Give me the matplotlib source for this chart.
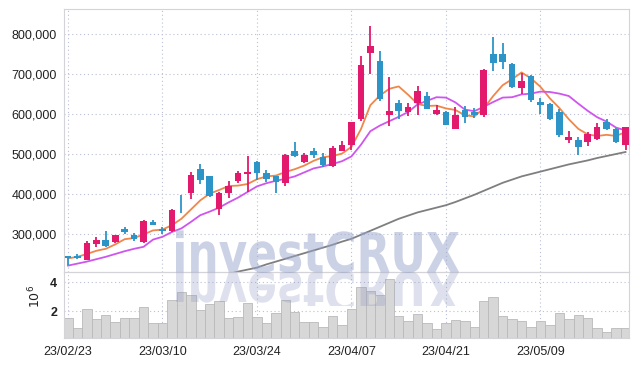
import numpy as np
import matplotlib
matplotlib.use('Agg')
import matplotlib.pyplot as plt
from matplotlib.ticker import FuncFormatter
from matplotlib.textpath import TextPath
from matplotlib.patches import PathPatch
from matplotlib.font_manager import FontProperties
from matplotlib.transforms import Affine2D, Bbox

plt.rcParams['font.family'] = ['Liberation Sans', 'DejaVu Sans']

# trading days (yy/mm/dd)
dates = ['23/02/23', '23/02/24', '23/02/27', '23/02/28', '23/03/02', '23/03/03', '23/03/06', '23/03/07',
         '23/03/08', '23/03/09', '23/03/10', '23/03/13', '23/03/14', '23/03/15', '23/03/16', '23/03/17',
         '23/03/20', '23/03/21', '23/03/22', '23/03/23', '23/03/24', '23/03/27', '23/03/28', '23/03/29',
         '23/03/30', '23/03/31', '23/04/03', '23/04/04', '23/04/05', '23/04/06', '23/04/07', '23/04/10',
         '23/04/11', '23/04/12', '23/04/13', '23/04/14', '23/04/17', '23/04/18', '23/04/19', '23/04/20',
         '23/04/21', '23/04/24', '23/04/25', '23/04/26', '23/04/27', '23/04/28', '23/05/02', '23/05/03',
         '23/05/04', '23/05/08', '23/05/09', '23/05/10', '23/05/11', '23/05/12', '23/05/15', '23/05/16',
         '23/05/17', '23/05/18', '23/05/19', '23/05/22']

# prices in thousands
open_ = [244, 245, 236, 276, 285, 281, 312, 298, 281, 331, 313, 307, 370, 403, 462, 445, 363, 402, 433, 449,
         481, 452, 445, 428, 507, 481, 507, 493, 470, 508, 522, 587, 753, 732, 597, 627, 605, 627, 645, 600,
         606, 563, 610, 605, 597, 750, 750, 725, 664, 695, 631, 624, 605, 535, 535, 530, 537, 581, 562, 522]
high = [245, 250, 282, 292, 307, 297, 317, 302, 335, 335, 318, 362, 397, 454, 474, 446, 405, 432, 457, 495,
        482, 460, 446, 499, 529, 503, 516, 502, 520, 533, 581, 745, 820, 757, 693, 635, 627, 670, 656, 622,
        607, 618, 620, 614, 712, 793, 778, 728, 702, 698, 639, 628, 612, 558, 542, 556, 578, 587, 564, 568]
low = [223, 237, 235, 268, 268, 277, 300, 283, 278, 322, 300, 305, 353, 387, 424, 392, 347, 390, 428, 406,
       435, 430, 403, 421, 492, 477, 490, 468, 468, 507, 510, 583, 700, 633, 570, 587, 594, 597, 612, 597,
       572, 562, 577, 589, 592, 708, 712, 664, 650, 631, 599, 586, 543, 528, 497, 521, 535, 560, 527, 510]
close = [239, 240, 277, 286, 271, 297, 306, 288, 333, 323, 307, 360, 369, 447, 435, 395, 403, 420, 453, 456,
         453, 437, 430, 497, 495, 497, 498, 472, 515, 522, 581, 722, 770, 637, 607, 608, 617, 657, 613, 611,
         572, 597, 593, 598, 710, 728, 731, 668, 682, 635, 622, 587, 547, 543, 518, 550, 567, 562, 529, 567]

ma5 = [239, 243, 250, 258, 263, 274, 287, 290, 299, 309, 311, 322, 338, 361, 384, 401, 410, 420, 421, 425,
       437, 444, 446, 455, 462, 471, 483, 492, 495, 501, 518, 562, 622, 646, 663, 669, 648, 625, 620, 621,
       614, 610, 597, 594, 614, 645, 672, 687, 704, 689, 668, 639, 615, 587, 563, 549, 545, 548, 545, 555]
ma10 = [221, 226, 231, 237, 243, 250, 257, 263, 268, 286, 293, 305, 314, 330, 347, 356, 366, 379, 391, 405,
        419, 427, 433, 438, 444, 454, 464, 469, 475, 482, 494, 523, 557, 571, 582, 593, 605, 624, 633, 642,
        641, 629, 611, 607, 618, 630, 641, 642, 649, 651, 656, 655, 651, 645, 626, 608, 592, 581, 566, 559]
# long average only visible from the 18th session on
ma60 = [np.nan] * 17 + [200, 206, 211, 216, 224, 231, 238, 245, 252, 259, 266, 273, 281, 288, 298, 308, 318,
                        328, 338, 346, 354, 360, 366, 372, 380, 389, 398, 408, 418, 428, 436, 444, 450, 456,
                        462, 468, 474, 479, 484, 490, 495, 500, 505]

# volume in millions of shares
volume = [1.51, 0.83, 2.18, 1.44, 1.78, 1.24, 1.51, 1.51, 2.32, 1.17, 1.17, 2.79, 3.33, 3.12, 2.11, 2.52,
          2.69, 1.51, 1.64, 2.59, 1.58, 1.17, 1.85, 2.79, 1.98, 1.24, 1.28, 0.94, 1.66, 1.06, 2.13, 3.64,
          3.37, 3.14, 4.20, 1.66, 1.33, 1.80, 1.17, 0.77, 1.17, 1.39, 1.33, 0.94, 2.74, 3.01, 1.66, 1.44,
          1.33, 0.90, 1.33, 1.06, 1.87, 1.44, 1.73, 1.51, 0.83, 0.61, 0.83, 0.83]

tick_idx = [0, 10, 20, 30, 40, 50]

PINK = '#e2196c'
BLUE = '#2d94c8'
GRID = '#bcc0d4'
SPINE = '#d4d4d8'


def draw_chart():
    o = np.array(open_) * 1000.0
    h = np.array(high) * 1000.0
    l = np.array(low) * 1000.0
    c = np.array(close) * 1000.0
    x = np.arange(len(dates))
    up = c >= o
    colors = np.where(up, PINK, BLUE)

    W, H = 637, 366
    fig = plt.figure(figsize=(W / 100, H / 100), dpi=100)
    ax = fig.add_axes([64 / W, 1 - 272 / H, 565 / W, 263 / H])
    axv = fig.add_axes([64 / W, 1 - 337.5 / H, 565 / W, 65.5 / H], sharex=ax)
    for a in (ax, axv):
        a.set_facecolor('none')
        for s in a.spines.values():
            s.set_color(SPINE)
            s.set_linewidth(0.8)
        a.grid(True, linestyle=(0, (1, 2.5)), color=GRID, linewidth=0.8)
        a.set_axisbelow(True)
        a.tick_params(length=0, labelsize=9, colors='#222222')

    # price panel
    ax.vlines(x, l, h, colors=colors, linewidth=1.3, zorder=3)
    body = np.maximum(np.abs(c - o), 1500)
    ax.bar(x, body, bottom=np.minimum(o, c), width=0.7, color=colors, zorder=4)
    ax.plot(x, np.array(ma5) * 1000, color='#f0874a', lw=1.3, zorder=2)
    ax.plot(x, np.array(ma10) * 1000, color='#cf55ee', lw=1.3, zorder=2)
    ax.plot(x, np.array(ma60) * 1000, color='#7f7f7f', lw=1.3, zorder=2)
    ax.set_ylim(205000, 862500)
    ax.set_yticks([300000, 400000, 500000, 600000, 700000, 800000])
    ax.yaxis.set_major_formatter(FuncFormatter(lambda v, p: f'{int(v):,}'))
    ax.tick_params(axis='y', pad=5)
    ax.tick_params(axis='x', labelbottom=False)

    # volume panel
    axv.bar(x, volume, width=1.0, color='#d7d7d7', edgecolor='#b9b9b9', linewidth=0.6, zorder=2)
    axv.set_ylim(0.2, 4.7)
    axv.set_yticks([2, 4])
    axv.set_yticklabels(['2', '4'], fontweight='bold')
    axv.tick_params(axis='y', pad=5)
    axv.set_ylabel(r'$10^6$', fontsize=9, color='#222222')
    axv.yaxis.set_label_coords(-0.036, 0.62)
    axv.set_xticks(tick_idx)
    axv.set_xticklabels([dates[i] for i in tick_idx])
    axv.tick_params(axis='x', pad=6)
    axv.set_xlim(-0.42, len(dates) - 0.63)

    # watermark with mirrored reflection
    fp = FontProperties(family='DejaVu Sans', weight='bold')
    tp = TextPath((0, 0), 'investCRUX', size=50, prop=fp)
    bb = tp.get_extents()
    cap = TextPath((0, 0), 'X', size=50, prop=fp).get_extents().height
    sx = 283 / bb.width
    sy = 40 / cap
    base = H - 272
    tr = Affine2D().translate(-bb.x0, 0).scale(sx, sy).translate(176, base)
    mark = PathPatch(tp, transform=tr, facecolor='#9aa7cd', edgecolor='none', alpha=0.5, zorder=5)
    fig.add_artist(mark)
    tr2 = Affine2D().translate(-bb.x0, 0).scale(sx, -sy).translate(176, base)
    refl = PathPatch(tp, transform=tr2, facecolor='#8a96c0', edgecolor='none', alpha=0.28, zorder=5)
    refl.set_clip_box(Bbox([[0, H - 306], [W, base]]))
    fig.add_artist(refl)

    fig.savefig('out.png', dpi=100)


if __name__ == "__main__":
    draw_chart()
